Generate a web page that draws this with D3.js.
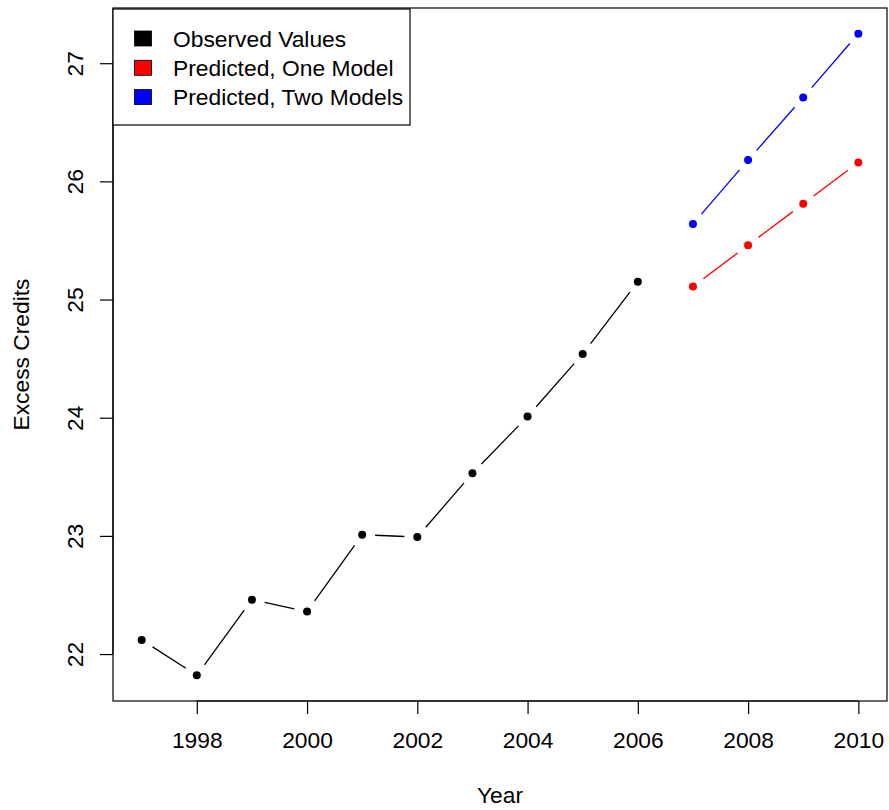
<!DOCTYPE html>
<html>
<head>
<meta charset="utf-8">
<script src="https://cdn.jsdelivr.net/npm/d3@7"></script>
<style>
  html, body { margin: 0; padding: 0; background: #fff; }
  svg { display: block; font-family: "Liberation Sans", Arial, Helvetica, sans-serif; }
</style>
</head>
<body>
<script>
// Observed series and the two forecast series
const observedYears = [1997, 1998, 1999, 2000, 2001, 2002, 2003, 2004, 2005, 2006];
const observedValues = [22.12, 21.82, 22.46, 22.36, 23.01, 22.99, 23.53, 24.01, 24.54, 25.15];
const predictedYears = [2007, 2008, 2009, 2010];
const predictedOneModel = [25.11, 25.46, 25.81, 26.16];
const predictedTwoModels = [25.64, 26.18, 26.71, 27.25];

const xTicks = [1998, 2000, 2002, 2004, 2006, 2008, 2010];
const yTicks = [22, 23, 24, 25, 26, 27];

const legendLabels = ["Observed Values", "Predicted, One Model", "Predicted, Two Models"];
const legendColors = ["#000000", "#ff0000", "#0000ff"];

const W = 889, H = 810;
const plot = { left: 113, right: 887, top: 8, bottom: 701 };

// R-style 4% padding on both axes
const allYears = observedYears.concat(predictedYears);
const allVals = observedValues.concat(predictedOneModel, predictedTwoModels);
const [x0, x1] = d3.extent(allYears);
const [y0, y1] = d3.extent(allVals);
const xp = (x1 - x0) * 0.04, yp = (y1 - y0) * 0.04;

const x = d3.scaleLinear().domain([x0 - xp, x1 + xp]).range([plot.left, plot.right]);
const y = d3.scaleLinear().domain([y0 - yp, y1 + yp]).range([plot.bottom, plot.top]);

const svg = d3.select("body").append("svg").attr("width", W).attr("height", H);

const fontSize = 22.8;

// Axes
const xAxis = d3.axisBottom(x).tickValues(xTicks).tickFormat(d3.format("d")).tickSize(13).tickPadding(18);
const gx = svg.append("g").attr("transform", `translate(0,${plot.bottom})`).call(xAxis);
gx.select(".domain").attr("d", `M${x(xTicks[0])},0H${x(xTicks[xTicks.length - 1])}`);

const yAxis = d3.axisLeft(y).tickValues(yTicks).tickFormat(d3.format("d")).tickSize(13);
const gy = svg.append("g").attr("transform", `translate(${plot.left},0)`).call(yAxis);
gy.select(".domain").attr("d", `M0,${y(yTicks[0])}V${y(yTicks[yTicks.length - 1])}`);
gy.selectAll(".tick text")
  .attr("x", 0).attr("y", 0)
  .attr("dy", null)
  .style("text-anchor", "middle")
  .attr("transform", "translate(-30.5,0) rotate(-90)");

[gx, gy].forEach(g => {
  g.selectAll("text").attr("font-size", fontSize).attr("fill", "#000").attr("font-family", "Liberation Sans, Arial, sans-serif");
  g.selectAll("line, path").attr("stroke", "#000").attr("stroke-width", 1.2);
});

// Plot frame
svg.append("rect")
  .attr("x", plot.left).attr("y", plot.top)
  .attr("width", plot.right - plot.left).attr("height", plot.bottom - plot.top)
  .attr("fill", "none").attr("stroke", "#000").attr("stroke-width", 1.2);

// Axis titles
svg.append("text")
  .attr("x", (plot.left + plot.right) / 2).attr("y", 803)
  .attr("text-anchor", "middle").attr("font-size", fontSize).text("Year");
svg.append("text")
  .attr("transform", `translate(28.5,${(plot.top + plot.bottom) / 2}) rotate(-90)`)
  .attr("text-anchor", "middle").attr("font-size", fontSize).text("Excess Credits");

// Lines with gaps around each point (type = "b")
const gap = 13;
function drawSeries(years, vals, color) {
  const pts = years.map((yr, i) => [x(yr), y(vals[i])]);
  const g = svg.append("g");
  for (let i = 0; i < pts.length - 1; i++) {
    const [ax, ay] = pts[i], [bx, by] = pts[i + 1];
    const dx = bx - ax, dy = by - ay, len = Math.hypot(dx, dy);
    if (len <= 2 * gap) continue;
    const ux = dx / len, uy = dy / len;
    g.append("line")
      .attr("x1", ax + ux * gap).attr("y1", ay + uy * gap)
      .attr("x2", bx - ux * gap).attr("y2", by - uy * gap)
      .attr("stroke", color).attr("stroke-width", 1.3);
  }
  g.selectAll("circle").data(pts).join("circle")
    .attr("cx", d => d[0]).attr("cy", d => d[1]).attr("r", 4)
    .attr("fill", color);
}
drawSeries(observedYears, observedValues, "#000000");
drawSeries(predictedYears, predictedOneModel, "#ff0000");
drawSeries(predictedYears, predictedTwoModels, "#0000ff");

// Legend
const lg = svg.append("g");
lg.append("rect")
  .attr("x", plot.left).attr("y", 9)
  .attr("width", 297).attr("height", 116)
  .attr("fill", "#fff").attr("stroke", "#000").attr("stroke-width", 1.2);
legendLabels.forEach((lab, i) => {
  const cy = 38.5 + i * 29.3;
  lg.append("rect")
    .attr("x", 134.5).attr("y", cy - 7.5).attr("width", 17).attr("height", 15)
    .attr("fill", legendColors[i]).attr("stroke", "#000").attr("stroke-width", 0.8);
  lg.append("text")
    .attr("x", 173).attr("y", cy).attr("dy", "0.36em")
    .attr("font-size", fontSize).text(lab);
});
</script>
</body>
</html>
